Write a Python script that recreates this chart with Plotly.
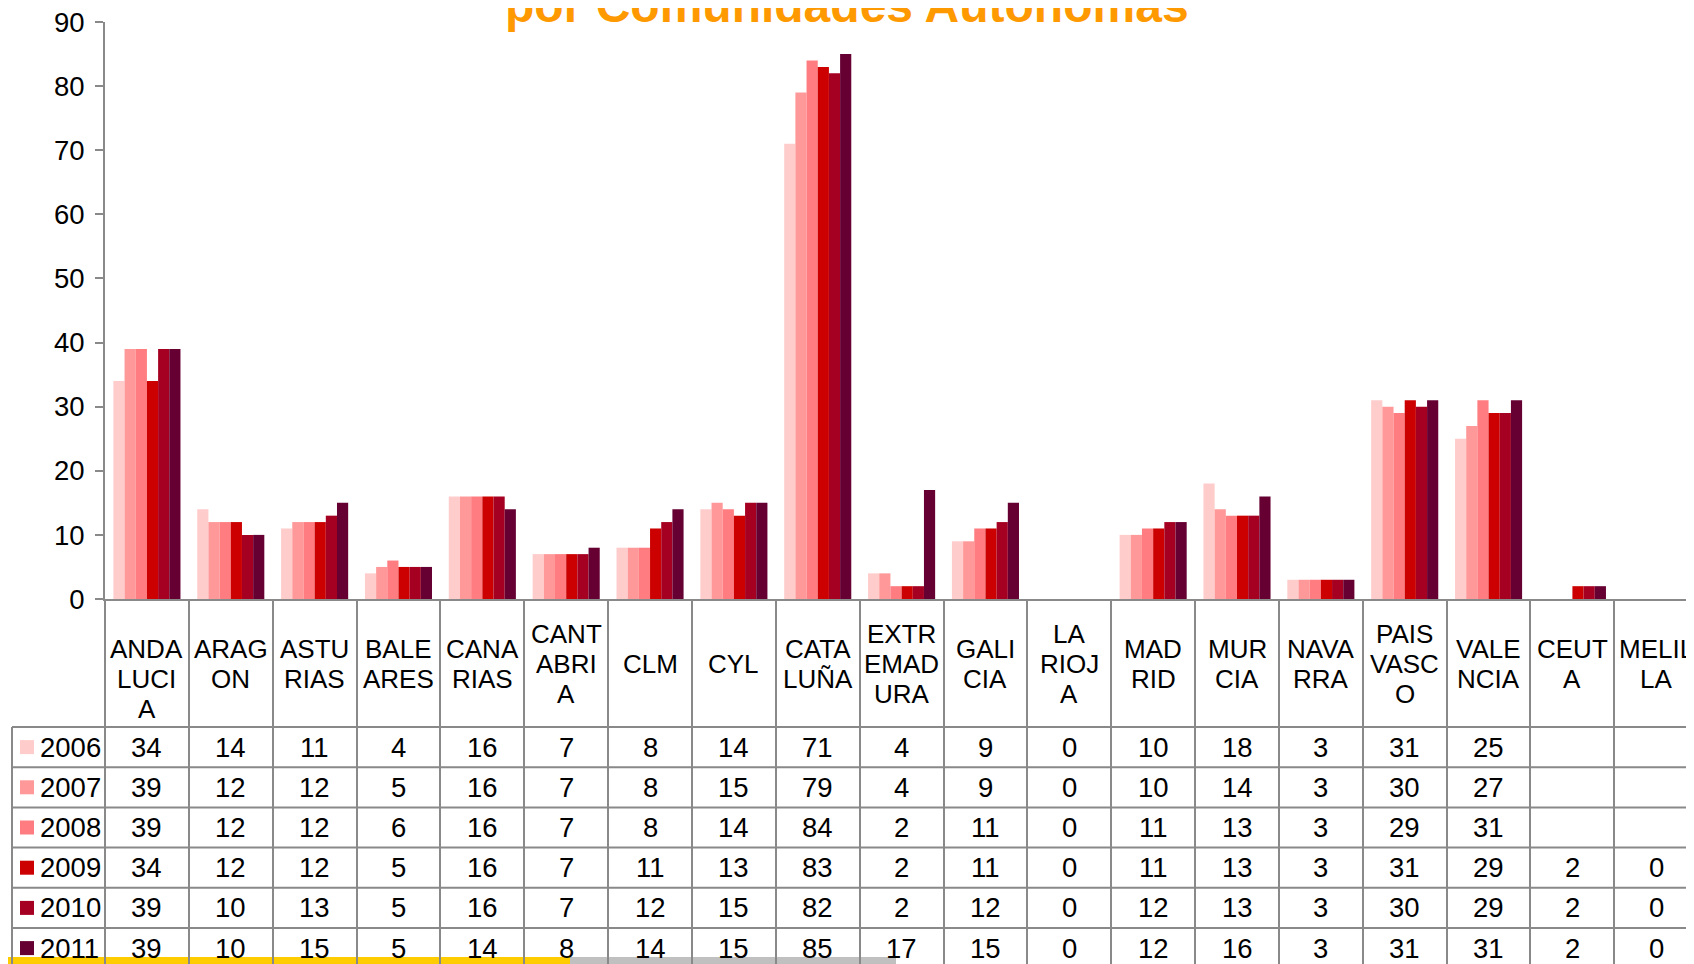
import plotly.graph_objects as go

# ---------------- data ----------------
categories = ["ANDALUCIA", "ARAGON", "ASTURIAS", "BALEARES", "CANARIAS", "CANTABRIA",
              "CLM", "CYL", "CATALUÑA", "EXTREMADURA", "GALICIA", "LA RIOJA",
              "MADRID", "MURCIA", "NAVARRA", "PAIS VASCO", "VALENCIA", "CEUTA", "MELILLA"]
header_labels = ["<br>ANDA<br>LUCI<br>A", "ARAG<br>ON", "ASTU<br>RIAS", "BALE<br>ARES",
                 "CANA<br>RIAS", "CANT<br>ABRI<br>A", "CLM", "CYL", "CATA<br>LUÑA",
                 "EXTR<br>EMAD<br>URA", "GALI<br>CIA", "LA<br>RIOJ<br>A", "MAD<br>RID",
                 "MUR<br>CIA", "NAVA<br>RRA", "PAIS<br>VASC<br>O", "VALE<br>NCIA",
                 "CEUT<br>A", "MELIL<br>LA"]
years = ["2006", "2007", "2008", "2009", "2010", "2011"]
colors = ["#FFCCCC", "#FF9999", "#FF7C80", "#CC0000", "#A50021", "#660033"]

v2006 = [34, 14, 11, 4, 16, 7, 8, 14, 71, 4, 9, 0, 10, 18, 3, 31, 25, None, None]
v2007 = [39, 12, 12, 5, 16, 7, 8, 15, 79, 4, 9, 0, 10, 14, 3, 30, 27, None, None]
v2008 = [39, 12, 12, 6, 16, 7, 8, 14, 84, 2, 11, 0, 11, 13, 3, 29, 31, None, None]
v2009 = [34, 12, 12, 5, 16, 7, 11, 13, 83, 2, 11, 0, 11, 13, 3, 31, 29, 2, 0]
v2010 = [39, 10, 13, 5, 16, 7, 12, 15, 82, 2, 12, 0, 12, 13, 3, 30, 29, 2, 0]
v2011 = [39, 10, 15, 5, 14, 8, 14, 15, 85, 17, 15, 0, 12, 16, 3, 31, 31, 2, 0]
series = [v2006, v2007, v2008, v2009, v2010, v2011]

title_text = "por Comunidades Autónomas"
y_ticks = [0, 10, 20, 30, 40, 50, 60, 70, 80, 90]

# ---------------- layout geometry (page pixels) ----------------
OFF = 8                      # default page margin around the plot div
PAGE_W, PAGE_H = 1694, 964
W, H = PAGE_W - OFF, PAGE_H - OFF
PL, PR, PT, PB = 105, 1694, 22, 599   # plot area in page pixels
XMIN, XMAX = -0.5, 18.45
GRID = "#898989"
FONT = "Arial, Liberation Sans, sans-serif"
FS_HEAD = 26
FS_NUM = 27.5

def xp(px):
    return (px - PL) / (PR - PL)

def yp(py):
    return (PB - py) / (PB - PT)

fig = go.Figure()
for yr, col, vals in zip(years, colors, series):
    fig.add_trace(go.Bar(x=categories, y=vals, name=yr,
                         marker=dict(color=col, line=dict(width=0))))

shapes = []
annotations = []

# bottom coloured band
shapes.append(dict(type="rect", xref="paper", yref="paper", x0=xp(OFF), x1=xp(570),
                   y0=yp(PAGE_H), y1=yp(957), fillcolor="#FFCC00", line=dict(width=0), layer="below"))
shapes.append(dict(type="rect", xref="paper", yref="paper", x0=xp(570), x1=xp(896),
                   y0=yp(PAGE_H), y1=yp(957), fillcolor="#C0C0C0", line=dict(width=0), layer="below"))

# table horizontal lines
ROW_TOP, ROW_H = 727, 40.2
for r in range(len(years) + 1):
    yy = ROW_TOP + r * ROW_H
    if yy > PAGE_H:
        continue
    shapes.append(dict(type="line", xref="paper", yref="paper", x0=xp(12), x1=1.0,
                       y0=yp(yy), y1=yp(yy), line=dict(color=GRID, width=2)))
# left border of legend column
shapes.append(dict(type="line", xref="paper", yref="paper", x0=xp(12), x1=xp(12),
                   y0=yp(ROW_TOP), y1=yp(PAGE_H + 5), line=dict(color=GRID, width=2)))

# header labels
HEAD_C, LINE_S = 663.5, 30
for cat, lab in zip(categories, header_labels):
    lines = lab.split("<br>")
    n = len(lines)
    for k, ln in enumerate(lines):
        if not ln:
            continue
        annotations.append(dict(x=cat, xref="x", y=yp(HEAD_C + (k - (n - 1) / 2) * LINE_S),
                                yref="paper", text=ln, showarrow=False, xanchor="center",
                                yanchor="middle", font=dict(family=FONT, size=FS_HEAD, color="black")))

# table rows
for r, (yr, col, vals) in enumerate(zip(years, colors, series)):
    yc = ROW_TOP + (r + 0.5) * ROW_H
    shapes.append(dict(type="rect", xref="paper", yref="paper", x0=xp(20), x1=xp(34),
                       y0=yp(yc + 7), y1=yp(yc - 7), fillcolor=col, line=dict(width=0)))
    annotations.append(dict(x=xp(37.5), xref="paper", y=yp(yc), yref="paper", text=yr,
                            showarrow=False, xanchor="left", yanchor="middle",
                            font=dict(family=FONT, size=FS_NUM, color="black")))
    for cat, v in zip(categories, vals):
        if v is None:
            continue
        annotations.append(dict(x=cat, xref="x", y=yp(yc), yref="paper", text=str(v),
                                showarrow=False, xanchor="center", yanchor="middle",
                                font=dict(family=FONT, size=FS_NUM, color="black")))

# title (only the lower part is visible)
annotations.append(dict(x=xp(846.5), xref="paper", y=yp(33.5), yref="paper", text=title_text,
                        showarrow=False, xanchor="center", yanchor="bottom",
                        font=dict(family=FONT, size=48, color="#FF9900", weight="bold")))

fig.update_layout(
    width=W, height=H,
    margin=dict(l=PL - OFF, r=OFF + W - PR, t=PT - OFF, b=OFF + H - PB, pad=0),
    paper_bgcolor="white", plot_bgcolor="white",
    showlegend=False,
    barmode="group", bargap=0.2, bargroupgap=0,
    shapes=shapes, annotations=annotations,
    xaxis=dict(type="category", range=[XMIN, XMAX], showticklabels=False,
               showline=True, linecolor=GRID, linewidth=2, showgrid=False, zeroline=False,
               ticks="outside", tickson="boundaries", ticklen=PAGE_H - PB + 5, tickwidth=2,
               tickcolor=GRID, automargin=False, fixedrange=True),
    yaxis=dict(range=[0, 90], tickvals=y_ticks, showline=True, linecolor=GRID, linewidth=2,
               showgrid=False, zeroline=False, ticks="outside", ticklen=8, tickwidth=2,
               tickcolor=GRID, tickfont=dict(family=FONT, size=FS_NUM, color="black"),
               ticklabelstandoff=5, ticklabeloverflow="allow",
               automargin=False, fixedrange=True),
)

fig.write_html("out.html")
